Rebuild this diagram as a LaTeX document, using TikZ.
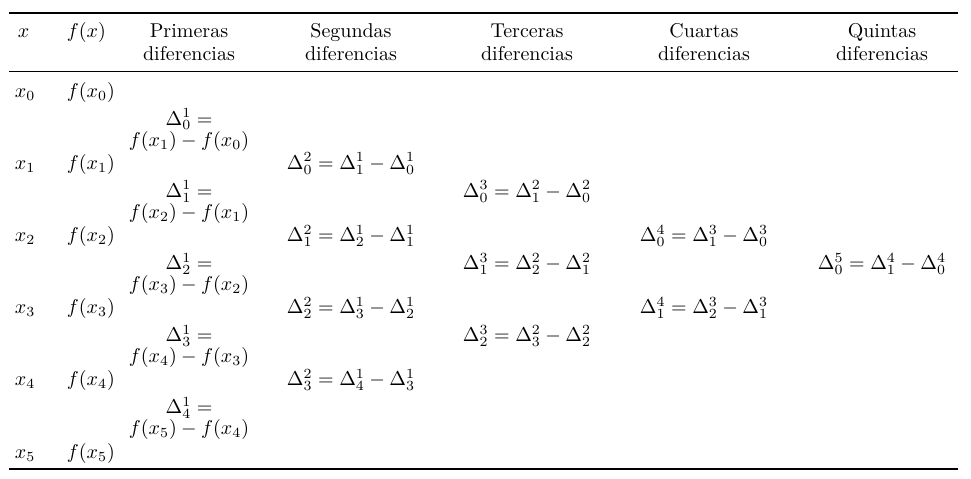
\documentclass[tikz,border=0pt]{standalone}
\usepackage{amsmath}
\usepackage{tikz}
\usetikzlibrary{positioning,calc}
\tikzset{cell/.style={anchor=base, inner sep=0pt, outer sep=0pt},
	lcell/.style={anchor=base west, inner sep=0pt, outer sep=0pt},
	rule/.style={line width=0.8pt, line cap=butt}}

\begin{document}
\begin{tikzpicture}[x=0.5pt,y=-0.5pt]
		\useasboundingbox (0,0) rectangle (971,478);
		% rules
		\draw[rule] (9,13) -- (958,13);
		\draw[line width=0.5pt] (9,71) -- (958,71);
		\draw[rule] (9,469) -- (958,469);
		% headers
		\node[lcell] (hx) at (18,37) {$x$};
		\node[lcell] (hf) at (67,37) {$f(x)$};
		\node[cell] (hpri) at (189,37) {Primeras};
		\node[cell] (hpri2) at (189,60) {diferencias};
		\node[cell] (hseg) at (351,37) {Segundas};
		\node[cell] (hseg2) at (351,60) {diferencias};
		\node[cell] (hter) at (527,37) {Terceras};
		\node[cell] (hter2) at (527,60) {diferencias};
		\node[cell] (hcua) at (704,37) {Cuartas};
		\node[cell] (hcua2) at (704,60) {diferencias};
		\node[cell] (hqui) at (882,37) {Quintas};
		\node[cell] (hqui2) at (882,60) {diferencias};
		% x and f(x)
		\node[lcell] (x0) at (15,97) {$x_0$};
		\node[lcell] (f0) at (67,97) {$f(x_0)$};
		\node[lcell] (x1) at (15,169.2) {$x_1$};
		\node[lcell] (f1) at (67,169.2) {$f(x_1)$};
		\node[lcell] (x2) at (15,241.4) {$x_2$};
		\node[lcell] (f2) at (67,241.4) {$f(x_2)$};
		\node[lcell] (x3) at (15,313.6) {$x_3$};
		\node[lcell] (f3) at (67,313.6) {$f(x_3)$};
		\node[lcell] (x4) at (15,385.8) {$x_4$};
		\node[lcell] (f4) at (67,385.8) {$f(x_4)$};
		\node[lcell] (x5) at (15,458) {$x_5$};
		\node[lcell] (f5) at (67,458) {$f(x_5)$};
		% primeras diferencias
		\node[cell] (p0) at (189,125) {$\Delta_0^1 =$};
		\node[cell] (q0) at (189,146) {$f(x_1)-f(x_0)$};
		\node[cell] (p1) at (189,197.2) {$\Delta_1^1 =$};
		\node[cell] (q1) at (189,218.2) {$f(x_2)-f(x_1)$};
		\node[cell] (p2) at (189,269.4) {$\Delta_2^1 =$};
		\node[cell] (q2) at (189,290.4) {$f(x_3)-f(x_2)$};
		\node[cell] (p3) at (189,341.6) {$\Delta_3^1 =$};
		\node[cell] (q3) at (189,362.6) {$f(x_4)-f(x_3)$};
		\node[cell] (p4) at (189,413.8) {$\Delta_4^1 =$};
		\node[cell] (q4) at (189,434.8) {$f(x_5)-f(x_4)$};
		% segundas diferencias
		\node[cell] (s0) at (351,169.2) {$\Delta_0^2 = \Delta_1^1 - \Delta_0^1$};
		\node[cell] (s1) at (351,241.4) {$\Delta_1^2 = \Delta_2^1 - \Delta_1^1$};
		\node[cell] (s2) at (351,313.6) {$\Delta_2^2 = \Delta_3^1 - \Delta_2^1$};
		\node[cell] (s3) at (351,385.8) {$\Delta_3^2 = \Delta_4^1 - \Delta_3^1$};
		% terceras diferencias
		\node[cell] (t0) at (527,197.2) {$\Delta_0^3 = \Delta_1^2 - \Delta_0^2$};
		\node[cell] (t1) at (527,269.4) {$\Delta_1^3 = \Delta_2^2 - \Delta_1^2$};
		\node[cell] (t2) at (527,341.6) {$\Delta_2^3 = \Delta_3^2 - \Delta_2^2$};
		% cuartas y quintas
		\node[cell] (c0) at (704,241.4) {$\Delta_0^4 = \Delta_1^3 - \Delta_0^3$};
		\node[cell] (c1) at (704,313.6) {$\Delta_1^4 = \Delta_2^3 - \Delta_1^3$};
		\node[cell] (k0) at (882,269.4) {$\Delta_0^5 = \Delta_1^4 - \Delta_0^4$};
		\end{tikzpicture}
\end{document}
